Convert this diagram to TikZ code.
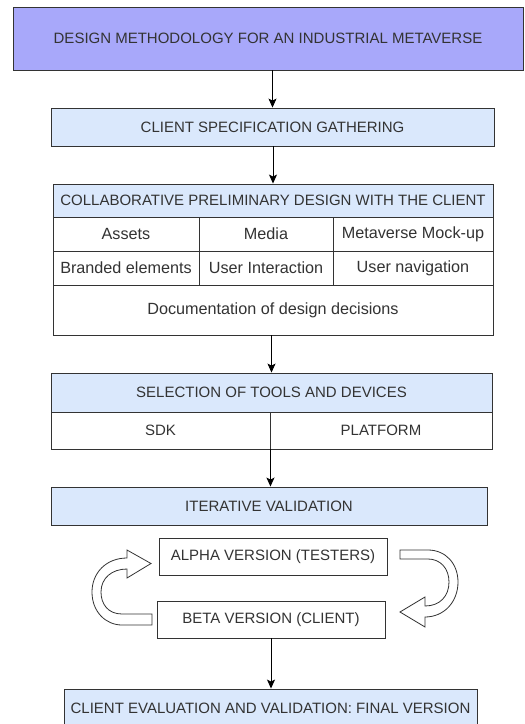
\documentclass[tikz,border=0pt]{standalone}
\usepackage{fontspec}
\setmainfont{Liberation Sans}
\usetikzlibrary{arrows.meta}
\definecolor{lav}{RGB}{168,168,250}
\definecolor{lblue}{HTML}{DAE8FC}
\definecolor{edge}{HTML}{333333}
\definecolor{txt}{HTML}{333333}
\begin{document}
\begin{tikzpicture}[x=1pt,y=-1pt,
  box/.style={draw=edge, line width=0.9pt, inner sep=0pt, rectangle, text=txt,
    font=\fontsize{15}{18}\selectfont},
  cell/.style={box, fill=white, font=\fontsize{16.2}{19}\selectfont},
  ucell/.style={box, fill=white},
  headbox/.style={box, fill=lblue},
  conn/.style={draw=black, line width=0.9pt, -{Stealth[length=9pt,width=8pt,inset=2pt]}},
  bendarrow/.style={draw=edge, line width=0.8pt, fill=white, line join=miter}]
\useasboundingbox (0,0) rectangle (525,724);
\clip (0,0) rectangle (525,724);

% title
\node[box, fill=lav, minimum width=510pt, minimum height=63pt] (title) at (268,38.5)
  {DESIGN METHODOLOGY FOR AN INDUSTRIAL METAVERSE};

% client specification
\node[headbox, minimum width=443pt, minimum height=38pt] (spec) at (272.5,127)
  {CLIENT SPECIFICATION GATHERING};

% collaborative design table
\node[headbox, minimum width=440pt, minimum height=33pt] (collab) at (273,200.5)
  {COLLABORATIVE PRELIMINARY DESIGN WITH THE CLIENT};
\node[cell, minimum width=146pt, minimum height=34pt] (assets) at (126,234) {Assets};
\node[cell, minimum width=134pt, minimum height=34pt] (media) at (266,234) {Media};
\node[cell, minimum width=160pt, minimum height=34pt] (mock) at (413,234) {Metaverse Mock-up};
\node[cell, minimum width=146pt, minimum height=34pt] (brand) at (126,268) {Branded elements};
\node[cell, minimum width=134pt, minimum height=34pt] (inter) at (266,268) {User Interaction};
\node[cell, minimum width=160pt, minimum height=34pt] (navi) at (413,268) {User navigation};
\node[cell, minimum width=440pt, minimum height=50pt] (doc) at (273,310) {Documentation of design decisions};

% selection of tools
\node[headbox, minimum width=441pt, minimum height=39pt] (sel) at (271.5,392.5)
  {SELECTION OF TOOLS AND DEVICES};
\node[ucell, minimum width=219pt, minimum height=37pt] (sdk) at (160.5,430.5) {SDK};
\node[ucell, minimum width=222pt, minimum height=37pt] (plat) at (381,430.5) {PLATFORM};

% iterative validation
\node[headbox, minimum width=436pt, minimum height=38pt] (iter) at (269,506)
  {ITERATIVE VALIDATION};
\node[ucell, minimum width=228pt, minimum height=37pt] (alpha) at (273,556.5)
  {ALPHA VERSION (TESTERS)};
\node[ucell, minimum width=228pt, minimum height=37pt] (beta) at (271,619.5)
  {BETA VERSION (CLIENT)};

% final
\node[headbox, minimum width=413pt, minimum height=38pt] (final) at (270.5,708)
  {CLIENT EVALUATION AND VALIDATION: FINAL VERSION};

% connectors
\draw[conn] (spec.north |- title.south) -- (spec.north);
\draw[conn] (collab.north |- spec.south) -- (collab.north);
\draw[conn] (doc.south -| sel.north) -- (sel.north);
\draw[conn] (sdk.south east) -- (sdk.south east |- iter.north);
\draw[conn] (beta.south) -- (beta.south |- final.north);

% left curved arrow (beta -> alpha)
\path[bendarrow] (152,614) -- (122,614)
  .. controls (108,614) and (101,604) .. (101,592)
  .. controls (101,578) and (112,569) .. (127,569)
  -- (127,578) -- (151,563.5) -- (127,550) -- (127,558)
  .. controls (106,558) and (92,573) .. (92,592)
  .. controls (92,612) and (106,625) .. (122,625)
  -- (152,625) -- cycle;

% right curved arrow (alpha -> beta)
\path[bendarrow] (400,550) -- (428,550)
  .. controls (446,550) and (458,564) .. (458,582)
  .. controls (458,602) and (444,617) .. (425,617)
  -- (425,627) -- (400,612) -- (425,597) -- (425,606)
  .. controls (440,606) and (449,596) .. (449,582)
  .. controls (449,568) and (440,559) .. (428,559)
  -- (400,559) -- cycle;
\end{tikzpicture}
\end{document}
